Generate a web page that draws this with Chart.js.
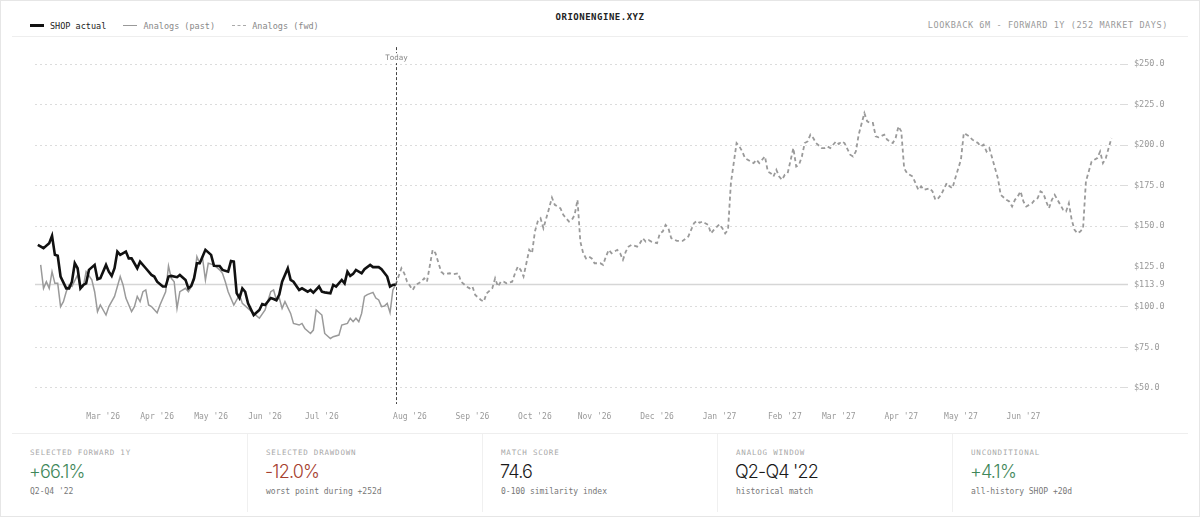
<!DOCTYPE html>
<html>
<head>
<meta charset="utf-8">
<title>SHOP analogs</title>
<script src="https://cdn.jsdelivr.net/npm/chart.js@4.4.1/dist/chart.umd.min.js"></script>
<style>
  html, body { margin: 0; padding: 0; background: #fff; }
  body { width: 1200px; height: 517px; overflow: hidden; position: relative; font-family: "DejaVu Sans Mono", monospace; }
  .card { position: absolute; left: 0; top: 0; width: 1198px; height: 515px; border: 1px solid #e6e6e6; }
  .head { position: absolute; left: 12px; width: 1176px; top: 0; height: 36px; border-bottom: 1px solid #eee; }
  .legend { position: absolute; left: 18px; top: 19px; height: 12px; font-size: 8.5px; line-height: 12px; color: #888; white-space: nowrap; }
  .legend span { display: inline-block; vertical-align: middle; }
  .sw { width: 14px; margin-right: 6px; }
  .sw.actual { border-top: 3px solid #111; }
  .sw.past { border-top: 1.5px solid #999; }
  .sw.fwd { border-top: 1px dashed #aaa; }
  .legend .item { margin-right: 12px; }
  .title { position: absolute; left: 0; width: 1176px; top: 12px; text-align: center; font-size: 9px; font-weight: bold; letter-spacing: 0.5px; color: #222; }
  .sub { position: absolute; right: 20px; top: 19px; font-size: 8.5px; line-height: 12px; letter-spacing: 0.6px; color: #9a9a9a; }
  .plot { position: absolute; left: 0; top: 37px; width: 1200px; height: 390px; }
  .stats { position: absolute; left: 12px; width: 1176px; top: 433px; height: 80px; border-top: 1px solid #eee; }
  .cell { position: absolute; top: 0; width: 235px; height: 78px; }
  .cell + .cell { border-left: 1px solid #f0f0f0; }
  .lab { position: absolute; left: 18px; top: 14px; font-size: 7.5px; line-height: 10px; letter-spacing: 0.8px; color: #a8a8a8; }
  .num { position: absolute; left: 17px; top: 26px; font-family: Inter, "Noto Sans", sans-serif; font-weight: 300; font-size: 18px; line-height: 24px; letter-spacing: -0.8px; color: #1a1a1a; }
  .num.up { color: #3f875a; }
  .num.down { color: #a5402e; }
  .note { position: absolute; left: 18px; top: 53px; font-size: 8px; line-height: 10px; color: #777; }
</style>
</head>
<body>
<div class="card"></div>
<div class="head">
  <div class="legend">
    <span class="sw actual"></span><span class="item" style="color:#222">SHOP actual</span>
    <span class="sw past"></span><span class="item">Analogs (past)</span>
    <span class="sw fwd"></span><span class="item">Analogs (fwd)</span>
  </div>
  <div class="title">ORIONENGINE.XYZ</div>
  <div class="sub">LOOKBACK 6M - FORWARD 1Y (252 MARKET DAYS)</div>
</div>
<div class="plot"><canvas id="chart"></canvas></div>
<div class="stats" id="stats"></div>

<script>
// trading-day offsets relative to "today" (0) and prices
const actualDays = [-126,-124,-122,-121,-120,-119,-118,-116,-115,-114,-113,-112,-111,-110,-109,-108,-106,-105,-104,-102,-101,-100,-99,-98,-97,-95,-94,-93,-91,-90,-88,-86,-85,-84,-82,-81,-80,-79,-77,-76,-74,-73,-72,-71,-70,-69,-67,-65,-64,-62,-61,-59,-58,-57,-56,-55,-54,-53,-52,-50,-48,-47,-46,-44,-43,-42,-41,-40,-38,-37,-36,-34,-33,-31,-30,-29,-27,-26,-25,-23,-22,-21,-19,-18,-17,-16,-15,-14,-12,-11,-9,-8,-6,-5,-3,-2,-1,0];
const actualPrice = [138.4,136.3,139.4,144,132.2,131.6,118.8,111.5,111.5,115.6,127,123.9,111.5,113.6,114.6,122.9,126,117.1,117.7,126,121.8,119.2,123.9,134.2,132.2,134.2,130,130,123.9,128,123.9,119.8,118.8,115.6,112.6,112.6,118.8,119.2,118.4,119.8,116.7,111.5,113,117.7,127,127,135.3,132.2,125.5,125.3,122.9,121.8,128.4,128,108.6,105.5,111.5,109.4,102.2,95,98.1,101.8,101.2,105.5,104.9,104.1,107.6,115.6,123.9,116.7,115.6,110.5,111.5,109.4,110.5,108.8,112.6,109.4,109,108.4,113.6,112.6,116.7,114.6,121.8,119.2,120.4,122.9,120.8,123.3,126,124.6,124.6,123.3,118.8,112.6,113.6,113.9];

const pastDays = [-125,-124,-123,-122,-121,-120,-119,-118,-117,-116,-115,-114,-112,-111,-110,-109,-107,-106,-105,-104,-102,-101,-99,-97,-96,-95,-93,-92,-91,-90,-89,-88,-87,-86,-84,-83,-81,-80,-79,-78,-77,-76,-74,-73,-72,-71,-70,-69,-68,-67,-66,-64,-62,-61,-60,-59,-57,-56,-55,-54,-52,-50,-48,-46,-44,-43,-42,-41,-40,-39,-37,-36,-34,-33,-32,-30,-29,-28,-26,-25,-23,-22,-20,-19,-17,-16,-15,-14,-13,-12,-11,-10,-8,-7,-6,-5,-4,-3,-2,-1,0];
const pastPrice = [126,111.5,115.6,111.5,121.8,114.6,114.6,100.2,103.3,109.4,113.6,112.6,119.8,111.5,112.6,121.8,116.7,109.4,97.1,101.2,95,100.2,106.5,118.8,113.6,105.5,97.1,100.2,106.5,103.3,109.4,110.5,101.2,100.2,96.4,101.2,109.4,125.3,117.7,115.6,99.1,109.4,111.5,109.4,112.6,116.7,131.1,127,130,116.7,127,126,122.9,120.8,115.6,109.4,101.2,104.3,107.6,102.2,99.1,96,93,98.1,109.4,110.5,104.3,105.5,99.1,103.3,96,89.8,88.8,89.8,86.7,83.6,85.7,98.1,95,83.6,80.5,81.6,82.6,88.8,89.8,93,90.9,93,90.9,96,106.5,107.6,109,105.5,104.3,100.2,100.6,102.2,96.4,110.5,113.9];

const fwdDays = [0,2,3,4,6,7,9,10,11,13,14,16,17,19,20,22,23,25,26,27,28,30,31,32,34,35,36,37,38,39,41,42,43,44,45,46,47,48,49,50,51,52,53,54,55,56,58,59,61,62,63,64,65,66,67,68,69,70,72,73,74,75,76,78,79,80,81,82,83,85,86,87,88,89,90,92,93,94,95,96,97,99,101,103,105,106,107,108,109,110,111,112,114,115,116,117,118,120,121,122,123,125,126,127,128,129,130,131,132,133,134,135,136,137,138,140,141,142,143,144,145,146,147,148,150,151,152,153,155,156,157,158,160,161,162,163,165,166,167,168,169,170,172,173,175,176,177,178,179,180,182,183,184,185,186,188,189,190,191,192,194,195,196,197,199,200,201,202,203,205,206,207,208,209,210,211,212,213,215,216,217,218,219,220,221,222,224,225,226,227,228,229,230,231,232,233,234,235,236,237,238,239,240,241,242,243,245,246,247,248,249,250,251,252];
const fwdPrice = [113.9,123.9,120.8,115.6,110.5,113.6,115.6,117.7,115.6,135.3,133.2,121.8,120.2,120.8,120.2,120.8,115.6,112.6,111.5,112.6,107.4,104.3,103.3,108.4,111.5,117.7,112.6,115.6,115.6,114.6,115.6,120.8,125,122.9,118.8,127,135.3,133.2,146.6,152.8,154.8,148.6,154.8,161,167.6,163.1,161,156.9,152.8,153.8,156.9,166.2,140.4,133.2,130,131.1,130,127,127,126,131.1,135.3,133.2,135.3,133.2,129.1,134.2,137.3,138.4,137.3,139.4,142.5,140.4,141.4,140.4,139.4,145.5,146.6,150.7,148.6,142.5,140.8,140.8,143.5,151.7,153.2,152,152.8,151.7,150.7,145.5,147.6,151.1,148.6,145.5,147.6,176.5,201.3,199.2,196.1,192,189.9,188.9,191,188.9,191,193,183.7,182.7,180.6,184.8,180.6,178.6,181.7,182.7,198.2,186.8,187.9,193,201.3,202.3,206.5,204.4,201.3,198.2,198.2,199.2,198.2,202.3,200.7,202.3,201.3,194.1,193,196.1,206.5,219.8,214.7,213.7,213.7,205.4,204.8,206.5,203.4,201.3,204.4,211.6,208.5,185.8,182.7,180.6,176.5,172.4,174.5,172.4,173.4,171.4,166.2,167.2,169.3,176.5,174.5,173.4,179.6,191,207.5,206.5,205.4,203.4,201.3,199.2,200.3,196.1,198.2,192,185.8,179.6,169.3,166.2,165.2,162.1,166.2,168.3,171.4,165.2,162.1,164.1,166.2,167.2,171.4,170.3,165.2,161,166.2,169.3,166.2,163.1,160,159,164.1,153.8,147.6,145.5,146.6,148.6,177.6,189.9,191,192,196.1,188.9,192,198.2,204.4];

const refPrice = 113.9; // SHOP last close
const yTicks = [50, 75, 100, 113.9, 125, 150, 175, 200, 225, 250];
const monthDays = [-103, -84, -65, -46, -26, 5, 27, 49, 70, 92, 114, 137, 156, 178, 199, 221];
const monthLabels = ["Mar '26", "Apr '26", "May '26", "Jun '26", "Jul '26", "Aug '26", "Sep '26", "Oct '26", "Nov '26", "Dec '26", "Jan '27", "Feb '27", "Mar '27", "Apr '27", "May '27", "Jun '27"];

const statLabels = ["SELECTED FORWARD 1Y", "SELECTED DRAWDOWN", "MATCH SCORE", "ANALOG WINDOW", "UNCONDITIONAL"];
const statValues = ["+66.1%", "-12.0%", "74.6", "Q2-Q4 '22", "+4.1%"];
const statNotes = ["Q2-Q4 '22", "worst point during +252d", "0-100 similarity index", "historical match", "all-history SHOP +20d"];
const statTone = ["up", "down", "", "", "up"];

// bottom stats row
const statsEl = document.getElementById("stats");
statLabels.forEach((lab, i) => {
  const c = document.createElement("div");
  c.className = "cell";
  c.style.left = (i * 235) + "px";
  c.innerHTML = `<div class="lab">${lab}</div><div class="num ${statTone[i]}">${statValues[i]}</div><div class="note">${statNotes[i]}</div>`;
  statsEl.appendChild(c);
});

const pts = (xs, ys) => xs.map((x, i) => ({ x: x, y: ys[i] }));
const MONO = "'DejaVu Sans Mono', monospace";

// reference line at last price + "Today" marker
const markers = {
  id: "markers",
  beforeDatasetsDraw(chart) {
    const { ctx, chartArea, scales } = chart;
    const y = scales.y.getPixelForValue(refPrice);
    ctx.save();
    ctx.strokeStyle = "#d6d6d6";
    ctx.lineWidth = 1.5;
    ctx.beginPath();
    ctx.moveTo(chartArea.left, y);
    ctx.lineTo(chartArea.right + 8, y);
    ctx.stroke();
    ctx.restore();
  },
  afterDatasetsDraw(chart) {
    const { ctx, chartArea, scales } = chart;
    const x = Math.round(scales.x.getPixelForValue(0)) + 0.5;
    ctx.save();
    ctx.strokeStyle = "#444";
    ctx.lineWidth = 1;
    ctx.setLineDash([3, 2]);
    ctx.beginPath();
    ctx.moveTo(x, chartArea.top - 1);
    ctx.lineTo(x, chartArea.bottom);
    ctx.stroke();
    ctx.setLineDash([]);
    ctx.font = "7.5px " + MONO;
    ctx.textAlign = "center";
    ctx.textBaseline = "middle";
    const w = ctx.measureText("Today").width;
    ctx.fillStyle = "#fff";
    ctx.fillRect(x - w / 2 - 1, chartArea.top + 5, w + 2, 10);
    ctx.fillStyle = "#888";
    ctx.fillText("Today", x, chartArea.top + 10);
    ctx.restore();
  }
};

new Chart(document.getElementById("chart"), {
  type: "line",
  data: {
    datasets: [
      {
        label: "SHOP actual",
        data: pts(actualDays, actualPrice),
        borderColor: "#111",
        borderWidth: 2.6,
        pointRadius: 0,
        tension: 0
      },
      {
        label: "Analogs (past)",
        data: pts(pastDays, pastPrice),
        borderColor: "#9a9a9a",
        borderWidth: 1.5,
        pointRadius: 0,
        tension: 0
      },
      {
        label: "Analogs (fwd)",
        data: pts(fwdDays, fwdPrice),
        borderColor: "#9a9a9a",
        borderWidth: 1.8,
        borderDash: [4, 3],
        pointRadius: 0,
        tension: 0
      }
    ]
  },
  options: {
    responsive: true,
    maintainAspectRatio: false,
    animation: false,
    layout: { padding: { left: 35, right: 30, top: 5, bottom: 0 } },
    plugins: { legend: { display: false }, tooltip: { enabled: false } },
    scales: {
      x: {
        type: "linear",
        min: -127,
        max: 255,
        grid: { display: false },
        border: { display: false },
        afterBuildTicks: (s) => { s.ticks = monthDays.map((v) => ({ value: v })); },
        afterFit: (s) => { s.height = 23; },
        ticks: {
          autoSkip: false,
          maxRotation: 0,
          padding: 0,
          color: "#999",
          font: { family: MONO, size: 8 },
          callback: (v) => monthLabels[monthDays.indexOf(v)]
        }
      },
      y: {
        position: "right",
        min: 40,
        max: 260,
        border: { display: false, dash: [2, 3] },
        grid: {
          color: (c) => (c.tick && (c.tick.value === 125 || c.tick.value === refPrice)) ? "rgba(0,0,0,0)" : "#dcdcdc",
          tickLength: 8,
          lineWidth: 1
        },
        afterBuildTicks: (s) => { s.ticks = yTicks.map((v) => ({ value: v })); },
        afterFit: (s) => { s.width = 50; },
        ticks: {
          padding: 6,
          color: "#999",
          font: { family: MONO, size: 8.5 },
          callback: (v) => "$" + Number(v).toFixed(1)
        }
      }
    }
  },
  plugins: [markers]
});
</script>
</body>
</html>
